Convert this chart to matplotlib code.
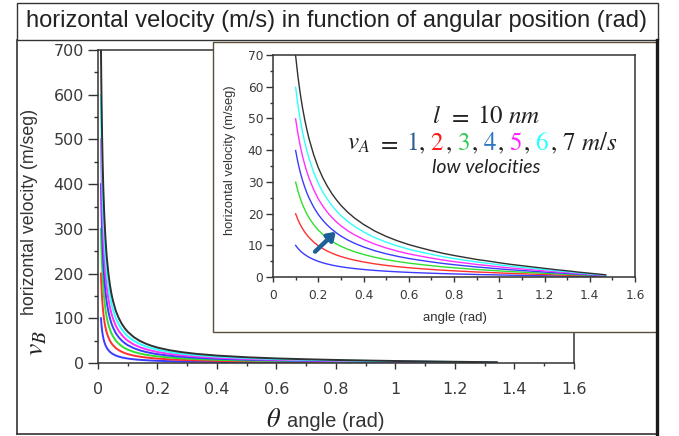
import matplotlib
matplotlib.use('Agg')
import matplotlib.pyplot as plt
from matplotlib.patches import Rectangle
from matplotlib.lines import Line2D
from matplotlib.ticker import MultipleLocator

W, H = 679, 436

# v_A values (m/s) and the colour of each curve
speeds_a = [1, 2, 3, 4, 5, 6, 7]
curve_colors = ['#3b3bff', '#ff3030', '#30e030', '#3b3bff', '#ff30ff', '#30ffff', '#303030']

# main plot: v_B (m/s) read for v_A = 1 m/s, other curves scale with v_A
theta_main = [0.01, 0.011, 0.012, 0.013, 0.014, 0.015, 0.016, 0.018, 0.02, 0.022,
              0.025, 0.028, 0.03, 0.035, 0.04, 0.045, 0.05, 0.06, 0.07, 0.08, 0.09,
              0.1, 0.12, 0.14, 0.16, 0.18, 0.2, 0.24, 0.28, 0.33, 0.4, 0.5, 0.6,
              0.7, 0.8, 0.9, 1.0, 1.1, 1.2, 1.3, 1.34]
vel_main = [100.0, 90.9, 83.3, 76.9, 71.4, 66.7, 62.5, 55.5, 50.0, 45.4,
            40.0, 35.7, 33.3, 28.6, 25.0, 22.2, 20.0, 16.6, 14.3, 12.5, 11.1,
            9.97, 8.29, 7.10, 6.20, 5.50, 4.93, 4.09, 3.48, 2.92, 2.37, 1.83, 1.46,
            1.19, 0.97, 0.79, 0.64, 0.51, 0.39, 0.28, 0.23]

# inset (low velocities), same reading for v_A = 1 m/s
theta_inset = [0.1, 0.11, 0.12, 0.13, 0.14, 0.15, 0.16, 0.18, 0.2, 0.22, 0.24, 0.26,
               0.28, 0.3, 0.33, 0.36, 0.4, 0.45, 0.5, 0.55, 0.6, 0.65, 0.7, 0.75,
               0.8, 0.85, 0.9, 0.95, 1.0, 1.05, 1.1, 1.15, 1.2, 1.25, 1.3, 1.35,
               1.4, 1.47]
vel_inset = [9.97, 9.05, 8.29, 7.65, 7.10, 6.62, 6.20, 5.50, 4.93, 4.47, 4.09, 3.76,
             3.48, 3.23, 2.92, 2.66, 2.37, 2.07, 1.83, 1.63, 1.46, 1.32, 1.19, 1.07,
             0.97, 0.88, 0.79, 0.72, 0.64, 0.57, 0.51, 0.45, 0.39, 0.33, 0.28, 0.22,
             0.17, 0.10]

x_ticks = [0, 0.2, 0.4, 0.6, 0.8, 1.0, 1.2, 1.4, 1.6]
x_ticklabels = ['0', '0.2', '0.4', '0.6', '0.8', '1', '1.2', '1.4', '1.6']
main_yticks = [0, 100, 200, 300, 400, 500, 600, 700]
inset_yticks = [0, 10, 20, 30, 40, 50, 60, 70]

# arrow in the inset (data coords): tail -> head
arrow_tail = (0.186, 8.0)
arrow_head = (0.278, 14.3)

plt.rcParams['font.family'] = ['Liberation Sans', 'DejaVu Sans']
plt.rcParams['mathtext.fontset'] = 'stix'

fig = plt.figure(figsize=(W / 100, H / 100), dpi=100)
renderer = fig.canvas.get_renderer()


def rect(x0, y0, x1, y1):
    """pixel box (top-left origin) -> figure fraction rect"""
    return [x0 / W, 1 - y1 / H, (x1 - x0) / W, (y1 - y0) / H]


def fline(x0, y0, x1, y1, **kw):
    fig.add_artist(Line2D([x0 / W, x1 / W], [1 - y0 / H, 1 - y1 / H],
                          transform=fig.transFigure, **kw))


def put_pieces(pieces, cx, base_y, **kw):
    """pieces: (text, colour, size, gap after in px), centred on cx at baseline base_y"""
    texts = [fig.text(0, 1 - base_y / H, s, color=c, fontsize=size,
                      ha='left', va='baseline', zorder=5, **kw)
             for s, c, size, _ in pieces]
    widths = [t.get_window_extent(renderer).width for t in texts]
    gaps = [g for *_, g in pieces]
    x = cx - (sum(widths) + sum(gaps[:-1])) / 2
    for t, w, g in zip(texts, widths, gaps):
        t.set_x(x / W)
        x += w + g


def style_axes(ax, ylen, xlen, labelsize, xpad, ypad):
    for sp in ax.spines.values():
        sp.set_color('#333333')
        sp.set_linewidth(1.1)
    ax.tick_params(which='both', direction='out', color='#333333',
                   labelcolor='#3a3a3a', width=1.0)
    ax.tick_params(axis='y', which='major', length=ylen, pad=ypad, labelsize=labelsize)
    ax.tick_params(axis='y', which='minor', length=ylen * 0.45)
    ax.tick_params(axis='x', which='major', length=xlen, pad=xpad, labelsize=labelsize)
    ax.tick_params(axis='x', which='minor', length=xlen * 0.55)
    for lab in ax.get_xticklabels() + ax.get_yticklabels():
        lab.set_family('DejaVu Sans')


# ---- main axes
ax = fig.add_axes(rect(98, 50, 574, 363))
for v, c in zip(speeds_a, curve_colors):
    ax.plot(theta_main, [v * b for b in vel_main], color=c, lw=1.4)
ax.set_xlim(0, 1.6)
ax.set_ylim(0, 700)
ax.set_xticks(x_ticks)
ax.set_xticklabels(x_ticklabels)
ax.set_yticks(main_yticks)
ax.xaxis.set_minor_locator(MultipleLocator(0.1))
ax.yaxis.set_minor_locator(MultipleLocator(50))
style_axes(ax, ylen=7, xlen=4.5, labelsize=11.5, xpad=9, ypad=3)

fig.text(30 / W, 1 - 212 / H, 'horizontal velocity (m/seg)', rotation=90,
         ha='center', va='center', fontsize=12.8, color='#333333')
fig.text(36 / W, 1 - 343 / H, r'$v_B$', rotation=90, ha='center', va='center',
         fontsize=20, color='#222222')
put_pieces([(r'$\theta$', '#222222', 19, 6), ('angle (rad)', '#333333', 14.5, 0)], 325, 427)

# ---- title box and outer frame
fig.add_artist(Rectangle((17 / W, 1 - 40 / H), (658 - 17) / W, 37 / H,
                         transform=fig.transFigure, facecolor='none',
                         edgecolor='#333333', lw=1.0))
fig.text(336 / W, 1 - 21 / H,
         'horizontal velocity (m/s) in function of angular position (rad)',
         ha='center', va='center', fontsize=17, color='#222222')
fline(17, 40, 17, 434, color='#333333', lw=1.2)
fline(17, 434, 657, 434, color='#333333', lw=1.2)

# ---- inset box
fig.add_artist(Rectangle((213 / W, 1 - 332 / H), (657 - 213) / W, (332 - 42) / H,
                         transform=fig.transFigure, facecolor='white',
                         edgecolor='#5c4c3c', lw=1.0, zorder=1))
fline(657, 40, 657, 434, color='#1a1a1a', lw=2.4, zorder=6)

ins = fig.add_axes(rect(273, 55, 635, 277))
ins.set_zorder(2)
for v, c in zip(speeds_a, curve_colors):
    ins.plot(theta_inset, [v * b for b in vel_inset], color=c, lw=1.0)
ins.set_xlim(0, 1.6)
ins.set_ylim(0, 70)
ins.set_xticks(x_ticks)
ins.set_xticklabels(x_ticklabels)
ins.set_yticks(inset_yticks)
ins.xaxis.set_minor_locator(MultipleLocator(0.1))
ins.yaxis.set_minor_locator(MultipleLocator(5))
style_axes(ins, ylen=5, xlen=3.5, labelsize=8.8, xpad=5, ypad=2)
ins.annotate('', xy=arrow_head, xytext=arrow_tail,
             arrowprops=dict(arrowstyle='-|>,head_length=0.45,head_width=0.3',
                             lw=3.2, color='#1f5f99', shrinkA=0, shrinkB=0))

fig.text(230 / W, 1 - 160 / H, 'horizontal velocity (m/seg)', rotation=90,
         ha='center', va='center', fontsize=9.3, color='#333333', zorder=5)
fig.text(455 / W, 1 - 318 / H, 'angle (rad)', ha='center', va='center',
         fontsize=9.5, color='#333333', zorder=5)

# ---- annotation text
put_pieces([(r'$l$', '#222222', 18, 7), (r'$=$', '#222222', 18, 7),
            (r'$10$', '#222222', 18, 5), (r'$nm$', '#222222', 18, 0)], 486, 123)
num_colors = ['#2e5f8f', '#ff1a1a', '#33cc55', '#2e75c0', '#ff22ff', '#22ffff', '#222222']
pieces = [(r'$v_A$', '#222222', 18, 7), (r'$=$', '#222222', 18, 7)]
for i, (v, c) in enumerate(zip(speeds_a, num_colors)):
    pieces.append((r'$%d$' % v, c, 18, 1))
    if i < len(speeds_a) - 1:
        pieces.append((r'$,$', '#222222', 18, 5))
pieces[-1] = (pieces[-1][0], pieces[-1][1], 18, 6)
pieces.append((r'$m/s$', '#222222', 18, 0))
put_pieces(pieces, 482, 150)
put_pieces([('low velocities', '#222222', 14, 0)], 486, 173, family='Lato', style='italic')

fig.savefig('out.png', dpi=100, facecolor='white')
